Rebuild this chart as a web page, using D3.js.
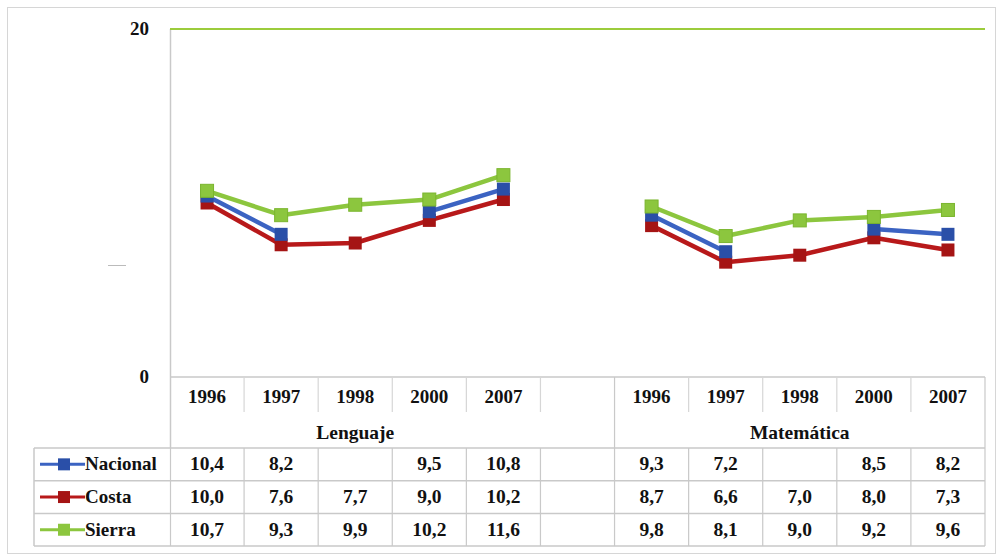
<!DOCTYPE html>
<html><head><meta charset="utf-8">
<script src="https://cdn.jsdelivr.net/npm/d3@7"></script>
<style>body{margin:0;background:#fff}svg{display:block}</style>
</head><body><svg id="c" width="1002" height="558"></svg>
<script>
const years = ["1996","1997","1998","2000","2007"];
const subjects = ["Lenguaje","Matemática"];
const seriesNames = ["Nacional","Costa","Sierra"];
const nacionalLenguaje = [10.4, 8.2, null, 9.5, 10.8];
const nacionalMatematica = [9.3, 7.2, null, 8.5, 8.2];
const costaLenguaje = [10.0, 7.6, 7.7, 9.0, 10.2];
const costaMatematica = [8.7, 6.6, 7.0, 8.0, 7.3];
const sierraLenguaje = [10.7, 9.3, 9.9, 10.2, 11.6];
const sierraMatematica = [9.8, 8.1, 9.0, 9.2, 9.6];
const yTicks = [0, 20];

const colors = {Nacional:"#3b63c2", Costa:"#b8191a", Sierra:"#8cc63e"};
const markerFill = {Nacional:"#2a4fa8", Costa:"#a51414", Sierra:"#8cc63e"};
const seriesData = {
  Nacional:[nacionalLenguaje, nacionalMatematica],
  Costa:[costaLenguaje, costaMatematica],
  Sierra:[sierraLenguaje, sierraMatematica]
};

const svg = d3.select("#c");
const keys = [...years.map(y=>"L"+y), "gap", ...years.map(y=>"M"+y)];
const x = d3.scaleBand().domain(keys).range([170,985]).padding(0);
const y = d3.scaleLinear().domain([0,20]).range([377,29]);
const grid = "#c9c9c9";
const txt = (sel)=>sel.attr("fill","#111").style("font-family","'Liberation Serif', serif").style("font-weight","bold");

svg.append("rect").attr("x",7.5).attr("y",7.5).attr("width",988).attr("height",546)
  .attr("fill","none").attr("stroke","#d6d6d6");

svg.append("line").attr("x1",170.5).attr("x2",170.5).attr("y1",y(20)).attr("y2",448).attr("stroke",grid).attr("stroke-width",1.5);
svg.append("line").attr("x1",170).attr("x2",985).attr("y1",y(0)).attr("y2",y(0)).attr("stroke",grid).attr("stroke-width",1.5);
svg.append("line").attr("x1",170).attr("x2",985).attr("y1",y(20)).attr("y2",y(20)).attr("stroke","#9ccc3c").attr("stroke-width",2);

svg.selectAll(".yl").data(yTicks).join("text").attr("class","yl")
  .attr("x",149).attr("y",d=>y(d)+6).attr("text-anchor","end").attr("font-size",19).text(d=>d).call(txt);
svg.append("line").attr("x1",108).attr("x2",126).attr("y1",265.5).attr("y2",265.5).attr("stroke","#bbb").attr("stroke-width",1);

const rowTop = 377;
const dataTop = 448, rowH = 32.7;
const tableLeft = 34, tableRight = 985;
for (let i=0;i<=3;i++){
  svg.append("line").attr("x1",tableLeft).attr("x2",tableRight)
    .attr("y1",dataTop+i*rowH).attr("y2",dataTop+i*rowH).attr("stroke",grid).attr("stroke-width",1.5);
}
keys.forEach(k=>{
  const full = k==="gap"||k==="M2007";
  svg.append("line").attr("x1",x(k)+x.bandwidth()).attr("x2",x(k)+x.bandwidth())
    .attr("y1",rowTop).attr("y2",full?dataTop:412).attr("stroke",full?grid:"#d6d6d6").attr("stroke-width",1.2);
});
svg.append("line").attr("x1",tableLeft).attr("x2",tableLeft).attr("y1",dataTop).attr("y2",dataTop+3*rowH).attr("stroke",grid).attr("stroke-width",1.5);
svg.append("line").attr("x1",170.5).attr("x2",170.5).attr("y1",dataTop).attr("y2",dataTop+3*rowH).attr("stroke",grid).attr("stroke-width",1.2);
keys.forEach(k=>{
  svg.append("line").attr("x1",x(k)+x.bandwidth()).attr("x2",x(k)+x.bandwidth())
    .attr("y1",dataTop).attr("y2",dataTop+3*rowH).attr("stroke",grid).attr("stroke-width",1.2);
});
keys.filter(k=>k!=="gap").forEach(k=>{
  svg.append("text").attr("x",x(k)+x.bandwidth()/2).attr("y",403).attr("text-anchor","middle")
    .attr("font-size",19).text(k.slice(1)).call(txt);
});
svg.append("text").attr("x",(x("L1996")+x("gap")+x.bandwidth())/2 - 37).attr("y",439).attr("text-anchor","middle").attr("font-size",19.5).text(subjects[0]).call(txt);
svg.append("text").attr("x",(x("M1996")+985)/2).attr("y",439).attr("text-anchor","middle").attr("font-size",19.5).text(subjects[1]).call(txt);

const fmt = v => v==null ? "" : d3.format(".1f")(v).replace(".",",");
seriesNames.forEach((s,i)=>{
  const cy = dataTop + i*rowH + rowH/2;
  svg.append("line").attr("x1",40).attr("x2",85).attr("y1",cy).attr("y2",cy).attr("stroke",colors[s]).attr("stroke-width",3);
  svg.append("rect").attr("x",58).attr("y",cy-6).attr("width",12).attr("height",12).attr("fill",markerFill[s]);
  svg.append("text").attr("x",85).attr("y",cy+6).attr("font-size",19).text(s).call(txt);
  const [L,M] = seriesData[s];
  years.forEach((yr,j)=>{
    svg.append("text").attr("x",x("L"+yr)+x.bandwidth()/2).attr("y",cy+6).attr("text-anchor","middle").attr("font-size",19.5).text(fmt(L[j])).call(txt);
    svg.append("text").attr("x",x("M"+yr)+x.bandwidth()/2).attr("y",cy+6).attr("text-anchor","middle").attr("font-size",19.5).text(fmt(M[j])).call(txt);
  });
});

const line = d3.line().defined(d=>d.v!=null).x(d=>x(d.k)+x.bandwidth()/2).y(d=>y(d.v));
["Costa","Nacional","Sierra"].forEach(s=>{
  const [L,M] = seriesData[s];
  [["L",L],["M",M]].forEach(([p,arr])=>{
    const pts = years.map((yr,j)=>({k:p+yr, v:arr[j]}));
    svg.append("path").datum(pts).attr("d",line).attr("fill","none").attr("stroke",colors[s]).attr("stroke-width",4.5).attr("stroke-linejoin","round");
    svg.selectAll(null).data(pts.filter(d=>d.v!=null)).join("rect")
      .attr("x",d=>x(d.k)+x.bandwidth()/2-6.5).attr("y",d=>y(d.v)-6.5).attr("width",13).attr("height",13)
      .attr("fill",markerFill[s]).attr("stroke",s==="Sierra"?"#7ab52e":"none");
  });
});
</script></body></html>
